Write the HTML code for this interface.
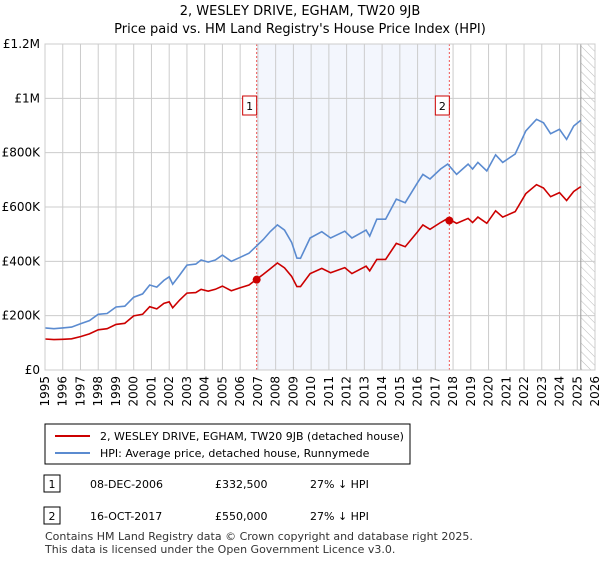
<!DOCTYPE html>
<html><head><meta charset="utf-8"><style>
body{margin:0;background:#fff;font-family:"Liberation Sans","DejaVu Sans",sans-serif;color:#000}
svg text{font-family:"DejaVu Sans","Liberation Sans",sans-serif}
</style></head><body>
<svg width="600" height="560" xmlns="http://www.w3.org/2000/svg">
<defs><pattern id="hatch" width="6" height="6" patternUnits="userSpaceOnUse" patternTransform="rotate(-45)"><line x1="0" y1="0" x2="0" y2="6" stroke="#bbb" stroke-width="1"/></pattern></defs>
<text x="300" y="15" text-anchor="middle" font-size="13">2, WESLEY DRIVE, EGHAM, TW20 9JB</text>
<text x="300" y="33" text-anchor="middle" font-size="13">Price paid vs. HM Land Registry's House Price Index (HPI)</text>
<g id="plot"></g>
<g>
<rect x="45" y="424" width="365" height="40" fill="#fff" stroke="#000" stroke-width="1"/>
<line x1="55" y1="436" x2="90" y2="436" stroke="#cc0000" stroke-width="2"/>
<text x="100" y="440" font-size="11">2, WESLEY DRIVE, EGHAM, TW20 9JB (detached house)</text>
<line x1="55" y1="453" x2="90" y2="453" stroke="#5b8bd0" stroke-width="2"/>
<text x="100" y="457" font-size="11">HPI: Average price, detached house, Runnymede</text>
</g>
<g font-size="11">
<rect x="44" y="475" width="16" height="17" fill="#fff" stroke="#000"/><text x="52" y="488" text-anchor="middle">1</text>
<text x="90" y="488">08-DEC-2006</text><text x="215" y="488">£332,500</text><text x="310" y="488">27% ↓ HPI</text>
<rect x="44" y="507" width="16" height="17" fill="#fff" stroke="#000"/><text x="52" y="520" text-anchor="middle">2</text>
<text x="90" y="520">16-OCT-2017</text><text x="215" y="520">£550,000</text><text x="310" y="520">27% ↓ HPI</text>
</g>
<text x="45" y="540" font-size="11" fill="#333">Contains HM Land Registry data © Crown copyright and database right 2025.</text>
<text x="45" y="553" font-size="11" fill="#333">This data is licensed under the Open Government Licence v3.0.</text>
</svg>
<script>
const hpiYears=[1995,1995.5,1996,1996.5,1997,1997.5,1998,1998.5,1999,1999.5,2000,2000.5,2000.9,2001.3,2001.7,2002,2002.2,2002.6,2003,2003.5,2003.8,2004.2,2004.6,2005,2005.5,2006,2006.5,2006.9,2007.3,2007.7,2008.1,2008.5,2008.9,2009.2,2009.4,2009.94,2010.6,2011.1,2011.9,2012.3,2013.1,2013.3,2013.7,2014.2,2014.8,2015.3,2016.0,2016.3,2016.7,2017.3,2017.7,2018.2,2018.85,2019.1,2019.4,2019.9,2020.4,2020.8,2021.5,2022.1,2022.7,2023.1,2023.5,2024.0,2024.4,2024.8,2025.2];
const hpiValues=[155,152,155,158,170,182,205,208,232,235,268,280,313,305,330,343,316,350,386,390,405,397,405,423,400,415,430,455,480,510,534,515,470,412,411,486,509,486,511,486,515,493,555,555,629,616,690,720,703,740,758,720,758,740,764,733,792,764,795,880,923,910,870,886,849,898,919];
const priceValues=[114,112,113,115,123,133,148,152,168,172,199,205,233,225,245,251,229,258,283,285,297,290,297,309,292,303,313,332.5,352,373,394,376,345,307,307,355,374,358,377,355,382,365,407,407,466,454,509,534,518,543,558,540,558,543,563,540,586,563,583,649,682,670,638,653,624,657,675];
const saleYears=[2006.93,2017.79];
const saleValues=[332.5,550];
const saleLabels=["1","2"];
const yTicks=[0,200,400,600,800,1000,1200];
const yTickLabels=["£0","£200K","£400K","£600K","£800K","£1M","£1.2M"];
const xTicks=[1995,1996,1997,1998,1999,2000,2001,2002,2003,2004,2005,2006,2007,2008,2009,2010,2011,2012,2013,2014,2015,2016,2017,2018,2019,2020,2021,2022,2023,2024,2025,2026];
const x0=45,x1=595,y0=370,y1=44;
const X=t=>x0+(t-1995)/31*(x1-x0);
const Y=v=>y0-v/1200*(y0-y1);
const NS="http://www.w3.org/2000/svg";
const g=document.getElementById('plot');
function mk(tag,attrs,parent){const e=document.createElementNS(NS,tag);for(const k in attrs)e.setAttribute(k,attrs[k]);(parent||g).appendChild(e);return e;}
let e;
e=mk('rect',{x:X(saleYears[0]),y:y1,width:X(saleYears[1])-X(saleYears[0]),height:y0-y1,fill:'#f3f6fd'});


e=mk('rect',{x:X(2025.2),y:y1,width:x1-X(2025.2),height:y0-y1,fill:'url(#hatch)'});


xTicks.forEach(t=>{
 e=mk('line',{x1:X(t),x2:X(t),y1:y1,y2:y0,stroke:'#ccc','stroke-width':1});
 
 
 e=mk('text',{x:0,y:0,'font-size':12,'text-anchor':'end',transform:`translate(${X(t)+4},${y0+6}) rotate(-90)`});
 e.textContent=t;
 
 
});
yTicks.forEach((v,i)=>{
 e=mk('line',{x1:x0,x2:x1,y1:Y(v),y2:Y(v),stroke:'#ccc','stroke-width':1});
 
 
 e=mk('text',{x:x0-5,y:Y(v)+4,'font-size':12,'text-anchor':'end'});
 e.textContent=yTickLabels[i];
 
 
});
e=mk('line',{x1:X(2025.2),x2:X(2025.2),y1:y1,y2:y0,stroke:'#999','stroke-width':1});


saleYears.forEach((t,i)=>{
 e=mk('line',{x1:X(t),x2:X(t),y1:y1,y2:y0,stroke:'#e55','stroke-width':1,'stroke-dasharray':'2,2'});
 
 
 e=mk('rect',{x:X(t)-14,y:96,width:14,height:19,fill:'#fff',stroke:'#c00'});
 
 
 e=mk('text',{x:X(t)-7,y:110,'font-size':11,'text-anchor':'middle'});
 e.textContent=saleLabels[i];
 
 
});
const pts=(vals)=>hpiYears.map((t,i)=>X(t).toFixed(1)+','+Y(vals[i]).toFixed(1)).join(' ');
e=mk('polyline',{points:pts(hpiValues),fill:'none',stroke:'#5b8bd0','stroke-width':1.6});


e=mk('polyline',{points:pts(priceValues),fill:'none',stroke:'#cc0000','stroke-width':1.6});


saleYears.forEach((t,i)=>{
 e=mk('circle',{cx:X(t),cy:Y(saleValues[i]),r:4,fill:'#cc0000'});
 
 
});
e=mk('rect',{x:x0,y:y1,width:x1-x0,height:y0-y1,fill:'none',stroke:'#ccc'});


</script>
</body></html>
